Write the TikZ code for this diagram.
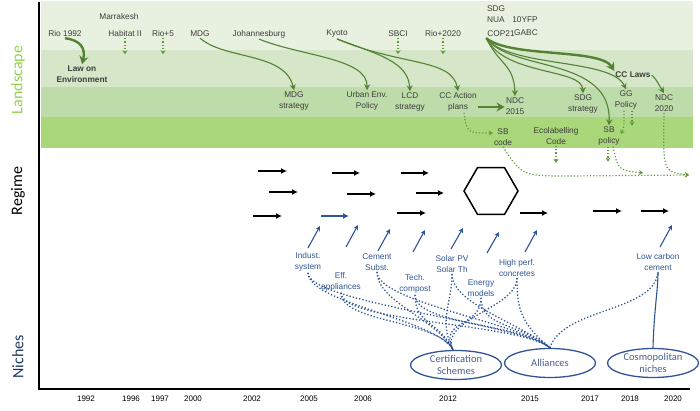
\documentclass[tikz,border=0pt]{standalone}
\usepackage{fontspec}
\setmainfont{Liberation Sans}
\newfontfamily\calfont{Carlito}
\usetikzlibrary{arrows.meta,shapes.geometric}

\definecolor{bandA}{HTML}{E8F1DF}
\definecolor{bandB}{HTML}{D5E7C8}
\definecolor{bandC}{HTML}{BEDCA9}
\definecolor{bandD}{HTML}{A9D779}
\definecolor{txtgray}{HTML}{3C3C3C}
\definecolor{landgreen}{HTML}{548235}
\definecolor{dotgreen}{HTML}{5E9A3A}
\definecolor{sidegreen}{HTML}{92D050}
\definecolor{nicheblue}{HTML}{2F5597}
\definecolor{sideblue}{HTML}{1F3864}
\definecolor{elltext}{HTML}{4A5F8E}

\begin{document}
\begin{tikzpicture}
[x=1pt,y=-1pt,
event/.style={font=\fontsize{8.3}{11.5}\selectfont,text=txtgray,inner sep=1pt,align=center},
boldevent/.style={event,font=\fontsize{8.3}{11.5}\selectfont\bfseries},
niche/.style={font=\fontsize{8.3}{11.5}\selectfont,text=nicheblue,inner sep=1pt,align=center},
year/.style={font=\fontsize{8}{10}\selectfont,text=black,inner sep=1pt},
side/.style={font=\calfont\fontsize{16}{18}\selectfont,rotate=90,inner sep=0pt},
nicheell/.style={ellipse,draw=nicheblue,line width=1.3pt,text=elltext,font=\calfont\fontsize{10.5}{12}\selectfont,
  minimum width=91,minimum height=29,inner sep=0pt,align=center},
greenarrow/.style={draw=landgreen,line width=1.1pt,-{Stealth[length=6pt,width=6pt]}},
thickgreen/.style={draw=landgreen,line width=2.4pt,-{Stealth[length=8pt,width=9pt]}},
greendot/.style={draw=dotgreen,dotted,line width=1.2pt,-{Stealth[length=4pt,width=5pt]}},
regarrow/.style={line width=1.8pt,-{Latex[length=6pt,width=6pt]}},
nichearrow/.style={draw=nicheblue,line width=1.1pt,-{Stealth[length=5pt,width=5pt]}},
nichedot/.style={draw=nicheblue,dotted,line width=1.3pt}]

\useasboundingbox (0,0) rectangle (700,411);

% Drawing bands and axes
\fill[bandA] (41,1) rectangle (693,50);
\fill[bandB] (41,50) rectangle (693,87);
\fill[bandC] (41,87) rectangle (693,117);
\fill[bandD] (41,117) rectangle (693,148);
\draw[line width=1.4pt] (39,2) -- (39,389) -- (690,389);

\node[side,text=sidegreen] (landlbl) at (18,80) {Landscape};
\node[side,text=black] (regimelbl) at (18,191) {Regime};
\node[side,text=sideblue] (nicheslbl) at (18,357) {Niches};

% Years
\foreach \yr/\xx in {1992/86,1996/131,1997/160,2000/193,2002/252,2005/309,2006/363,2012/448,2015/530,2017/590,2018/630,2020/673}
	\node[year] (y\yr) at (\xx,399) {\yr};

% Landscape events
\node[event] (rio92) at (65,34) {Rio 1992};
\node[event] (marrakesh) at (119,17) {Marrakesh};
\node[event] (habitat) at (125,34) {Habitat II};
\node[event] (rio5) at (163,34) {Rio+5};
\node[event] (mdg) at (200,34) {MDG};
\node[event] (joburg) at (259,34) {Johannesburg};
\node[event] (kyoto) at (337,34) {Kyoto};
\node[event] (sbci) at (398,34) {SBCI};
\node[event] (rio2020) at (443,34) {Rio+2020};
\node[event] (sdg) at (496,9) {SDG};
\node[event] (nua) at (496,20) {NUA};
\node[event] (tenyfp) at (525,20) {10YFP};
\node[event] (cop21) at (501,34) {COP21};
\node[event] (gabc) at (526,33) {GABC};

% Outcomes
\node[boldevent] (law) at (82,74) {Law on\\Environment};
\node[boldevent] (cclaws) at (633,75) {CC Laws};
\node[event] (mdgstrat) at (294,101) {MDG\\strategy};
\node[event] (urbanenv) at (367,101) {Urban Env.\\Policy};
\node[event] (lcd) at (410,102) {LCD\\strategy};
\node[event] (ccaction) at (458,102) {CC Action\\plans};
\node[event] (ndc15) at (515,106) {NDC\\2015};
\node[event] (sdgstrat) at (583,104) {SDG\\strategy};
\node[event] (ggpolicy) at (626,100) {GG\\Policy};
\node[event] (ndc20) at (664,103) {NDC\\2020};
\node[event] (sbcode) at (503,137) {SB\\code};
\node[event] (ecolab) at (556,136) {Ecolabelling\\Code};
\node[event] (sbpolicy) at (609,136) {SB\\policy};

% Landscape connections
\draw[thickgreen] (rio92.south) .. controls (80,40) and (86,48) .. (law.north);
\foreach \ev in {habitat,rio5,sbci,rio2020}
	\draw[greendot] (\ev.south) -- ++(0,16);
\draw[greenarrow] (mdg.south) .. controls (225,60) and (285,52) .. (mdgstrat.north);
\draw[greenarrow] (joburg.south) .. controls (300,56) and (368,58) .. (urbanenv.north);
\draw[greenarrow] (kyoto.south) .. controls (380,55) and (408,62) .. (lcd.north);
\draw[greenarrow] (kyoto.south) .. controls (400,66) and (452,58) .. (ccaction.north);
\draw[thickgreen] ([yshift=-5pt]ccaction.east) -- ([yshift=-1pt]ndc15.west);
\draw[greenarrow] (cop21.south west) .. controls (500,66) and (514,64) .. (ndc15.north);
\draw[greenarrow] (cop21.south west) .. controls (505,76) and (582,68) .. (sdgstrat.north);
\draw[greenarrow] (cop21.south west) .. controls (510,68) and (612,58) .. (ggpolicy.north);
\draw[greenarrow] (cop21.south west) .. controls (510,72) and (612,56) .. (sbpolicy.north);
\draw[thickgreen] (cop21.south west) .. controls (510,58) and (600,48) .. (cclaws.north west);
\draw[greenarrow] (cclaws.east) .. controls (655,78) .. (ndc20.north);

% Dotted links to regime
\coordinate (rightend) at (689,175);
\draw[greendot] ([xshift=6pt]ccaction.south) .. controls (467,133) .. ([yshift=4pt]sbcode.west);
\draw[greendot] ([xshift=-2pt]ggpolicy.south) .. controls (624,128) .. ([yshift=2pt]sbpolicy.east);
\draw[greendot] ([xshift=6pt]ggpolicy.south) -- ++(0,15);
\draw[greendot] (ndc20.south) .. controls (663,172) .. (rightend);
\draw[greendot] (sbcode.south) .. controls (522,176) .. (570,176) -- (rightend);
\draw[greendot] (ecolab.south) -- ++(0,17);
\draw[greendot] ([xshift=-1pt]sbpolicy.south) -- ++(0,15);
\draw[greendot] ([xshift=4pt]sbpolicy.south) .. controls (618,170) .. (643,173);

% Regime
\node[regular polygon,regular polygon sides=6,draw,line width=1.5pt,minimum size=54,inner sep=0pt] (hex) at (491,191) {};
\foreach \xa/\xb/\yy [count=\i] in {258/287/171,269/298/192,253/282/216,332/360/173,347/376/194,401/429/173,416/444/193,397/426/213,520/548/213,593/622/211,641/669/211} {
	\coordinate (ra\i) at (\xa,\yy);
	\coordinate (rb\i) at (\xb,\yy);
	\draw[regarrow] (ra\i) -- (rb\i);
}
\coordinate (bluea) at (321,216);
\coordinate (blueb) at (349,216);
\draw[regarrow,draw=nicheblue] (bluea) -- (blueb);

% Niches
\node[niche] (indust) at (308,262) {Indust.\\system};
\node[niche] (effapp) at (341,282) {Eff.\\appliances};
\node[niche] (cement) at (377,262) {Cement\\Subst.};
\node[niche] (techcomp) at (415,284) {Tech.\\compost};
\node[niche] (solar) at (452,264) {Solar PV\\Solar Th};
\node[niche] (energy) at (481,288) {Energy\\models};
\node[niche] (highperf) at (517,268) {High perf.\\concretes};
\node[niche] (lowcarbon) at (658,262) {Low carbon\\cement};

\foreach \xa/\ya/\xb/\yb [count=\i] in {308/248/320/226,346/247/358/225,378/251/390/229,413/252/425/230,451/249/463/228,487/253/499/232,525/252/537/230,660/247/672/225} {
	\coordinate (na\i) at (\xa,\ya);
	\coordinate (nb\i) at (\xb,\yb);
	\draw[nichearrow] (na\i) -- (nb\i);
}

\node[nicheell] (certif) at (456,365) {Certification\\Schemes};
\node[nicheell] (alliances) at (550,363) {Alliances};
\node[nicheell] (cosmo) at (653,363) {Cosmopolitan\\niches};

% Niche network
\foreach \src in {indust,effapp,cement,techcomp,solar,energy,highperf} {
	\draw[nichedot] (\src.south) .. controls +(0,30) and +(-15,-30) .. ([xshift=-3pt]certif.north);
	\draw[nichedot] (\src.south) .. controls +(0,30) and +(-30,-25) .. (alliances.north);
}
\draw[nichedot] (alliances.north) .. controls (562,308) and (655,312) .. (lowcarbon.south);
\draw[nicheblue,line width=1.1pt] (cosmo.north) .. controls (654,310) and (658,290) .. (lowcarbon.south);
\end{tikzpicture}
\end{document}
